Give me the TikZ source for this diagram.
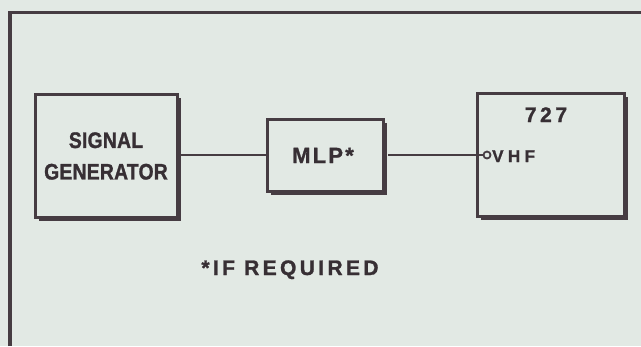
\documentclass[tikz,border=0pt]{standalone}
\usepackage{fontspec}
\newfontfamily\lett{Liberation Sans Bold}[FakeBold=1.2]
\newfontfamily\lettc{Liberation Sans Bold}[FakeStretch=0.86, FakeBold=1.2]
\usetikzlibrary{shadows}
\definecolor{bgc}{RGB}{226,233,228}
\definecolor{ink}{RGB}{70,60,66}
\definecolor{txt}{RGB}{55,47,52}
\tikzset{
  blk/.style={draw=ink, line width=3pt, fill=bgc, inner sep=0pt,
    drop shadow={shadow xshift=3.5pt, shadow yshift=-3.5pt, fill=ink, opacity=1}},
  wire/.style={draw=ink, line width=2.6pt},
  lbl/.style={text=txt, inner sep=0pt, font=\lett},
  frm/.style={draw=ink, line width=3.4pt}
}
\begin{document}
\begin{tikzpicture}[x=1pt,y=-1pt]
\useasboundingbox[fill=bgc] (0,0) rectangle (641,346);
% outer frame
\coordinate (fbl) at (10,346);
\coordinate (ftl) at (10,12.5);
\coordinate (ftr) at (641,12.5);
\draw[frm] (fbl) -- (ftl) -- (ftr);
% blocks
\node[blk, minimum width=142pt, minimum height=123pt, text=txt,
      font=\lettc\fontsize{22.5}{31.5}\selectfont\addfontfeatures{LetterSpace=1}, align=center]
      (sg) at (106,156) {SIGNAL\\GENERATOR};
\node[blk, minimum width=116pt, minimum height=72pt] (mlp) at (325,155) {};
\node[blk, minimum width=147pt, minimum height=123pt] (ac) at (550.5,155) {};
% texts
\node[lbl, anchor=base, font=\lett\fontsize{22}{22}\selectfont\addfontfeatures{LetterSpace=10}]
  (mlpt) at (323,163) {MLP*};
\node[lbl, anchor=base, font=\lett\fontsize{21}{21}\selectfont\addfontfeatures{LetterSpace=17}]
  (t727) at (546,122) {727};
\node[circle, draw=ink, line width=1.8pt, fill=bgc, inner sep=0pt, minimum size=7pt] (port) at (487,155) {};
\node[lbl, anchor=base west, font=\lett\fontsize{17}{17}\selectfont\addfontfeatures{LetterSpace=26}]
  (vhf) at (492,162) {VHF};
\node[lbl, anchor=base, font=\lett\fontsize{21}{21}\selectfont\addfontfeatures{LetterSpace=16}]
  (req) at (290,275) {*IF REQUIRED};
% connectors
\draw[wire] (sg.east |- mlp.west) -- (mlp.west);
\draw[wire] ([xshift=3.5pt]mlp.east) -- (port.west);
\end{tikzpicture}
\end{document}
